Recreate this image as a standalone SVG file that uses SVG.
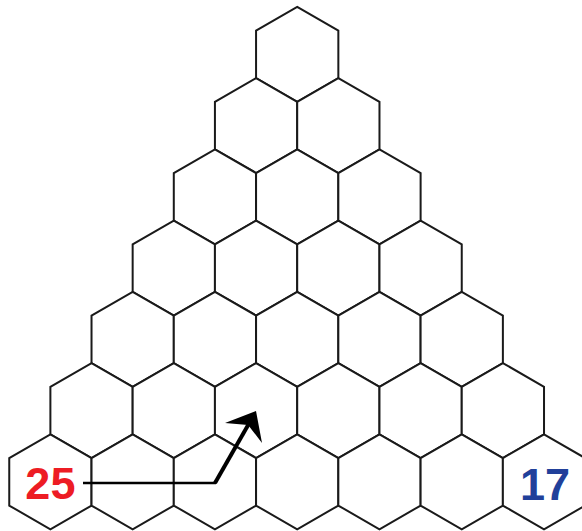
<svg xmlns="http://www.w3.org/2000/svg" xmlns:xlink="http://www.w3.org/1999/xlink" width="582" height="531" viewBox="0 0 582 531">
<style>
.hex{fill:#fff;stroke:#1a1a1a;stroke-width:2;stroke-linejoin:miter}
.num{font-family:"Liberation Sans",Arial,sans-serif;font-weight:bold;font-size:45px;text-anchor:middle}
.conn{fill:none;stroke:#000;stroke-linejoin:miter}
</style>
<defs>
<polygon id="h" class="hex" points="0,-47.5 41.14,-23.75 41.14,23.75 0,47.5 -41.14,23.75 -41.14,-23.75"/>
</defs>
<rect width="582" height="531" fill="#fff"/>
<g id="hex-0-0" transform="translate(297.2,54.3)"><use xlink:href="#h"/></g>
<g id="hex-1-0" transform="translate(256.07,125.55)"><use xlink:href="#h"/></g>
<g id="hex-1-1" transform="translate(338.34,125.55)"><use xlink:href="#h"/></g>
<g id="hex-2-0" transform="translate(214.93,196.8)"><use xlink:href="#h"/></g>
<g id="hex-2-1" transform="translate(297.2,196.8)"><use xlink:href="#h"/></g>
<g id="hex-2-2" transform="translate(379.47,196.8)"><use xlink:href="#h"/></g>
<g id="hex-3-0" transform="translate(173.8,268.05)"><use xlink:href="#h"/></g>
<g id="hex-3-1" transform="translate(256.07,268.05)"><use xlink:href="#h"/></g>
<g id="hex-3-2" transform="translate(338.34,268.05)"><use xlink:href="#h"/></g>
<g id="hex-3-3" transform="translate(420.61,268.05)"><use xlink:href="#h"/></g>
<g id="hex-4-0" transform="translate(132.66,339.3)"><use xlink:href="#h"/></g>
<g id="hex-4-1" transform="translate(214.93,339.3)"><use xlink:href="#h"/></g>
<g id="hex-4-2" transform="translate(297.2,339.3)"><use xlink:href="#h"/></g>
<g id="hex-4-3" transform="translate(379.47,339.3)"><use xlink:href="#h"/></g>
<g id="hex-4-4" transform="translate(461.74,339.3)"><use xlink:href="#h"/></g>
<g id="hex-5-0" transform="translate(91.53,410.55)"><use xlink:href="#h"/></g>
<g id="hex-5-1" transform="translate(173.8,410.55)"><use xlink:href="#h"/></g>
<g id="hex-5-2" transform="translate(256.07,410.55)"><use xlink:href="#h"/></g>
<g id="hex-5-3" transform="translate(338.34,410.55)"><use xlink:href="#h"/></g>
<g id="hex-5-4" transform="translate(420.61,410.55)"><use xlink:href="#h"/></g>
<g id="hex-5-5" transform="translate(502.88,410.55)"><use xlink:href="#h"/></g>
<g id="hex-6-0" transform="translate(50.39,481.8)"><use xlink:href="#h"/><text class="num" x="0" y="17.5" fill="#ed1c24">25</text></g>
<g id="hex-6-1" transform="translate(132.66,481.8)"><use xlink:href="#h"/></g>
<g id="hex-6-2" transform="translate(214.93,481.8)"><use xlink:href="#h"/></g>
<g id="hex-6-3" transform="translate(297.2,481.8)"><use xlink:href="#h"/></g>
<g id="hex-6-4" transform="translate(379.47,481.8)"><use xlink:href="#h"/></g>
<g id="hex-6-5" transform="translate(461.74,481.8)"><use xlink:href="#h"/></g>
<g id="hex-6-6" transform="translate(544.01,481.8)"><use xlink:href="#h"/><text class="num" x="1" y="18.5" fill="#21409a">17</text></g>
<g id="connectors">
<path class="conn" d="M83,483 H216" stroke-width="2.6"/>
<path class="conn" d="M215,483 L249,423.5" stroke-width="4"/>
<path d="M256,411 L225,423 L248.1,424.9 L262,443 Z" fill="#000"/>
</g>
</svg>
